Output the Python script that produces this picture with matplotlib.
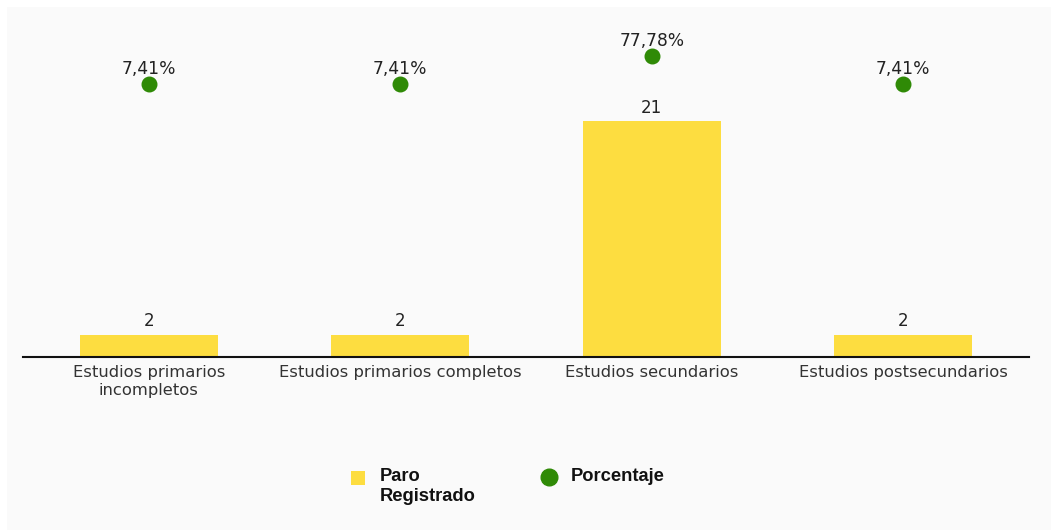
import matplotlib.pyplot as plt
from matplotlib.patches import Rectangle

categories = ["Estudios primarios\nincompletos", "Estudios primarios completos",
              "Estudios secundarios", "Estudios postsecundarios"]
paro = [2, 2, 21, 2]
porcentaje = [7.41, 7.41, 77.78, 7.41]
pct_labels = ["7,41%", "7,41%", "77,78%", "7,41%"]

yellow = '#fddd40'
green = '#2f8a06'

fig = plt.figure(figsize=(10.51, 5.30), dpi=100, facecolor='white')
# light panel behind the chart
fig.patches.append(Rectangle((7 / 1051, 0), 1 - 7 / 1051, 1 - 7 / 530,
                             transform=fig.transFigure, facecolor='#fafafa',
                             edgecolor='none', zorder=-10))

W, H = 1051, 530
ax = fig.add_axes([23 / W, 1 - 357 / H, 1006 / W, 337 / H])
ax.patch.set_alpha(0)

x = list(range(len(categories)))
ax.bar(x, paro, width=0.55, color=yellow, zorder=2)
for xi, v in zip(x, paro):
    ax.annotate(str(v), (xi, v), xytext=(0, 3), textcoords='offset points',
                ha='center', va='bottom', fontsize=12, color='#222222')

ax.set_xlim(-0.5, 3.5)
ax.set_ylim(0, 30)
ax.set_xticks(x)
ax.set_xticklabels(categories, fontsize=11.8, color='#333333', linespacing=1.25)
ax.tick_params(axis='x', length=0, pad=6)
ax.set_yticks([])
for s in ['top', 'right', 'left']:
    ax.spines[s].set_visible(False)
ax.spines['bottom'].set_linewidth(1.5)
ax.spines['bottom'].set_color('#111111')

ax2 = ax.twinx()
ax2.patch.set_alpha(0)
ax2.scatter(x, porcentaje, s=110, color=green, zorder=3)
for xi, v, lab in zip(x, porcentaje, pct_labels):
    ax2.annotate(lab, (xi, v), xytext=(0, 4.5), textcoords='offset points',
                 ha='center', va='bottom', fontsize=12.3, color='#222222')
ax2.set_ylim(-678.6, 168)
ax2.set_yticks([])
for s in ['top', 'right', 'left', 'bottom']:
    ax2.spines[s].set_visible(False)

# legend
fig.patches.append(Rectangle((351 / W, 1 - 485 / H), 14 / W, 14 / H,
                             transform=fig.transFigure, facecolor=yellow,
                             edgecolor='none'))
fig.text(380 / W, 1 - 468 / H, "Paro\nRegistrado", fontsize=13.2, fontweight='bold',
         family='Liberation Sans', va='top', ha='left', color='#111111',
         linespacing=1.2)
fig.lines.append(plt.Line2D([549 / W], [1 - 477 / H], marker='o', markersize=12,
                            color=green, transform=fig.transFigure))
fig.text(571 / W, 1 - 468 / H, "Porcentaje", fontsize=13.2, fontweight='bold',
         family='Liberation Sans', va='top', ha='left', color='#111111')

fig.savefig('out.png', dpi=100, facecolor=fig.get_facecolor())
